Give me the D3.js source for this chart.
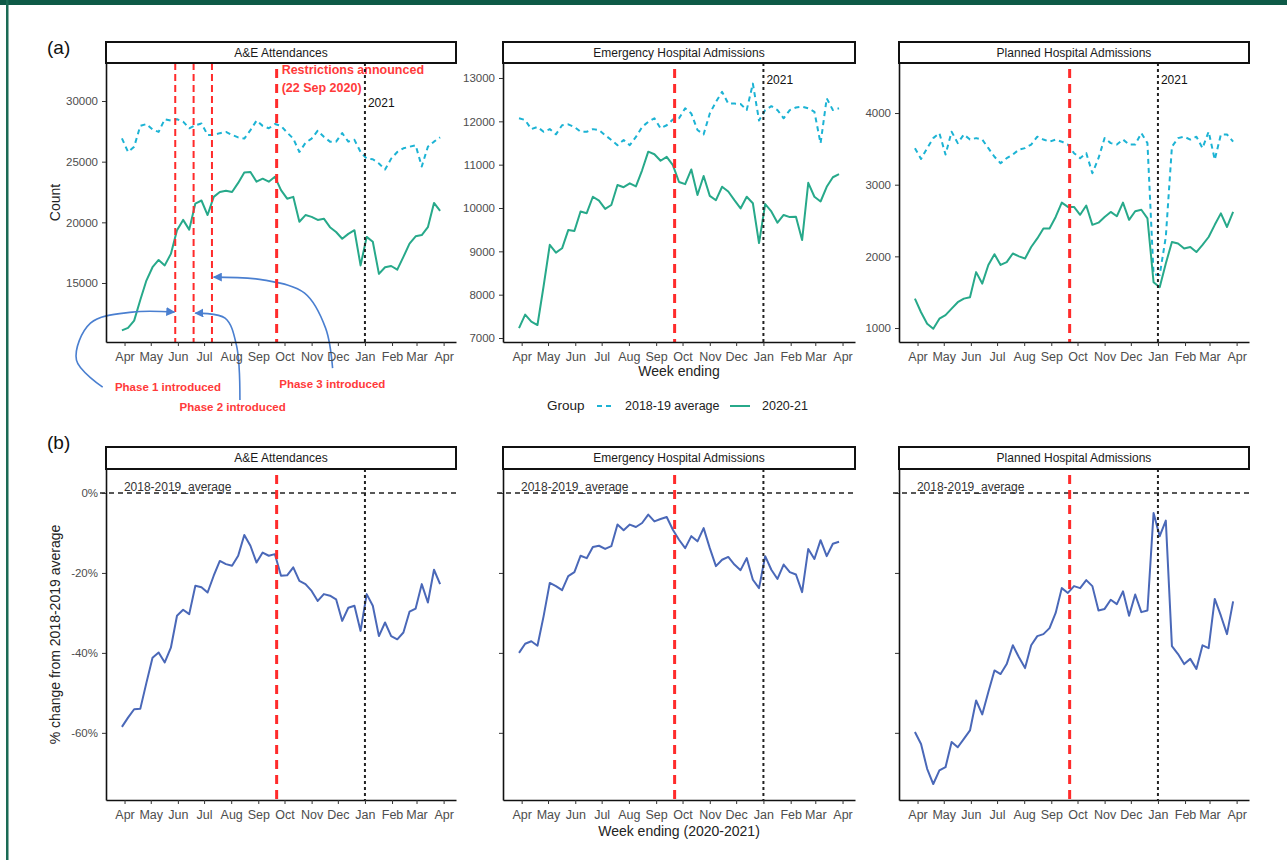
<!DOCTYPE html>
<html lang="en">
<head>
<meta charset="UTF-8">
<title>Weekly hospital activity 2020-21</title>
<script src="https://d3js.org/d3.v7.min.js"></script>
<style>
  body { margin: 0; background: #fff; }
  svg text { font-family: "Liberation Sans", Arial, sans-serif; }
</style>
</head>
<body>
<svg id="chart" width="1287" height="860"></svg>
<script>
// ---- data (weekly, week ending Sunday) ----
const weeks = d3.timeWeek.range(new Date(2020, 2, 29), new Date(2021, 2, 29));
const monthTicks = d3.timeMonth.range(new Date(2020, 3, 1), new Date(2021, 3, 2));
const panelNames = ["A&E Attendances", "Emergency Hospital Admissions", "Planned Hospital Admissions"];
const groupNames = ["2018-19 average", "2020-21"];

const aeAvg = [26920, 25800, 26230, 27950, 28100, 27650, 27450, 28500, 28380, 28500,
  28300, 27750, 28000, 28150, 27200, 27200, 27350, 27450, 27200, 27000,
  26900, 27600, 28380, 27950, 27750, 28100, 27950, 27400, 26900, 25800,
  26550, 26900, 27550, 27050, 26650, 26650, 27350, 26650, 26800, 25800,
  25250, 25200, 24850, 24350, 25250, 25800, 26100, 26230, 26350, 24600,
  26230, 26650, 27000];
const ae2021 = [11100, 11300, 11900, 13600, 15200, 16300, 16900, 16450, 17400, 19350,
  20200, 19400, 21550, 21800, 20600, 22100, 22500, 22600, 22500, 23250,
  24100, 24150, 23350, 23600, 23350, 23750, 22650, 21950, 22100, 20050,
  20600, 20450, 20200, 20300, 19600, 19200, 18650, 19050, 19350, 16450,
  18800, 18400, 15750, 16300, 16400, 16100, 17150, 18250, 18850, 18950,
  19600, 21600, 20950];
const emAvg = [12070, 12030, 11820, 11870, 11760, 11820, 11700, 11910, 11930, 11870,
  11760, 11760, 11820, 11800, 11680, 11570, 11450, 11570, 11450, 11640,
  11870, 11990, 12070, 11840, 11910, 12040, 12070, 12300, 12180, 11800,
  11700, 12180, 12450, 12680, 12410, 12410, 12400, 12260, 12870, 12020,
  12260, 12350, 12260, 12070, 12260, 12320, 12340, 12300, 12220, 11490,
  12530, 12260, 12300];
const em2021 = [7230, 7540, 7380, 7300, 8200, 9150, 8970, 9070, 9490, 9470,
  9920, 9880, 10260, 10170, 9980, 10070, 10530, 10480, 10570, 10500,
  10870, 11300, 11240, 11090, 11180, 10990, 10600, 10550, 10890, 10300,
  10740, 10280, 10180, 10490, 10380, 10180, 9990, 10260, 10110, 9190,
  10090, 9920, 9660, 9840, 9790, 9800, 9260, 10580, 10260, 10150,
  10490, 10710, 10780];
const plAvg = [3510, 3360, 3510, 3650, 3720, 3420, 3740, 3580, 3700, 3630,
  3650, 3630, 3510, 3390, 3300, 3370, 3420, 3490, 3510, 3560,
  3670, 3630, 3600, 3630, 3600, 3560, 3440, 3370, 3440, 3160,
  3370, 3650, 3580, 3560, 3630, 3560, 3560, 3720, 3580, 1750,
  1740, 2270, 3530, 3650, 3670, 3630, 3670, 3510, 3740, 3350,
  3700, 3700, 3600];
const pl2021 = [1410, 1220, 1060, 990, 1130, 1180, 1270, 1360, 1410, 1430,
  1780, 1620, 1880, 2030, 1880, 1920, 2040, 2000, 1970, 2130,
  2250, 2390, 2390, 2550, 2750, 2690, 2690, 2580, 2710, 2440,
  2470, 2550, 2620, 2560, 2750, 2510, 2630, 2650, 2530, 1640,
  1570, 1900, 2200, 2180, 2110, 2130, 2060, 2160, 2270, 2440,
  2600, 2410, 2620];

// % change from 2018-2019 average
const aeChange = [-58.5, -56.2, -54.1, -54.0, -47.5, -41.2, -39.9, -42.4, -38.7, -30.7,
  -29.2, -30.3, -23.2, -23.6, -24.9, -20.7, -17.0, -17.8, -18.2, -15.7,
  -10.5, -13.2, -17.4, -14.9, -15.7, -15.3, -20.7, -20.6, -18.6, -22.0,
  -22.8, -24.5, -27.0, -25.3, -25.7, -26.6, -32.0, -28.7, -28.2, -34.5,
  -25.3, -28.2, -35.8, -32.4, -35.8, -36.6, -34.9, -29.7, -28.9, -22.8,
  -27.4, -19.2, -22.8];
const emChange = [-40.0, -37.7, -37.1, -38.2, -30.8, -22.5, -23.3, -24.3, -20.8, -19.8,
  -15.7, -16.3, -13.5, -13.2, -14.0, -13.3, -7.9, -9.3, -7.9, -8.5,
  -7.5, -5.4, -7.1, -6.5, -6.0, -9.2, -11.7, -13.8, -10.8, -12.1,
  -8.8, -13.8, -18.3, -16.7, -16.0, -17.9, -19.3, -16.3, -21.7, -23.8,
  -15.8, -19.2, -21.5, -17.9, -19.8, -20.4, -24.8, -14.0, -16.5, -11.8,
  -15.8, -12.7, -12.2];
const plChange = [-59.8, -62.8, -69.0, -72.8, -69.4, -68.6, -62.3, -63.6, -61.5, -59.4,
  -51.9, -55.4, -49.8, -44.4, -45.3, -42.8, -38.1, -41.1, -43.8, -38.1,
  -35.8, -35.3, -33.8, -30.0, -23.8, -25.0, -23.3, -23.8, -21.8, -23.3,
  -29.4, -29.0, -26.7, -27.8, -24.6, -30.7, -25.4, -29.8, -29.4, -5.0,
  -10.8, -6.9, -38.3, -40.3, -42.8, -41.5, -44.0, -38.1, -38.8, -26.5,
  -30.7, -35.3, -27.1];

const countTicks = [[15000, 20000, 25000, 30000], [7000, 8000, 9000, 10000, 11000, 12000, 13000], [1000, 2000, 3000, 4000]];
const changeTicks = [0, -20, -40, -60];

const phaseDates = ["2020-05-29", "2020-06-19", "2020-07-10"];
const phaseLabels = ["Phase 1 introduced", "Phase 2 introduced", "Phase 3 introduced"];
const restrictionDate = "2020-09-22";
const newYearDate = "2021-01-01";

// ---- layout / style ----
const parseDate = d3.timeParse("%Y-%m-%d");
const svg = d3.select("#chart");
const W = 1287, H = 860;
const colLeft = [106, 503, 899];
const colWidth = [350, 352, 350];
const rows = [
  { stripTop: 42, plotTop: 63, plotBottom: 342 },
  { stripTop: 447, plotTop: 469, plotBottom: 800 }
];
const countDomains = [[10137, 33132], [6908, 13346], [805, 4698]];
const changeDomain = [-76.8, 6.0];
const yearLabelValue = [29510, 12861, 4405];

const colAvg = "#1cb3d4", col2021 = "#27a98a", colChange = "#4a68b8";
const colRed = "#ff2b2b", colArrow = "#4a7fd0";

// frame
svg.append("rect").attr("x", 0).attr("y", 0).attr("width", W).attr("height", 5).attr("fill", "#0e5a47");
svg.append("rect").attr("x", 6).attr("y", 0).attr("width", 2.5).attr("height", H).attr("fill", "#1b6b55");

svg.append("defs").append("marker")
  .attr("id", "arrowHead")
  .attr("viewBox", "0 0 10 10")
  .attr("refX", 9).attr("refY", 5)
  .attr("markerUnits", "userSpaceOnUse")
  .attr("markerWidth", 9).attr("markerHeight", 9)
  .attr("orient", "auto")
  .append("path").attr("d", "M0,0L10,5L0,10z").attr("fill", colArrow);

const xPadHours = 18.2 * 24;
function makeX(c) {
  return d3.scaleTime()
    .domain([d3.timeHour.offset(weeks[0], -xPadHours), d3.timeHour.offset(weeks[weeks.length - 1], xPadHours)])
    .range([colLeft[c], colLeft[c] + colWidth[c]]);
}

function styleAxis(g, size) {
  g.select(".domain").attr("stroke", "#111").attr("stroke-width", 1.6);
  g.selectAll(".tick line").attr("stroke", "#333").attr("stroke-width", 1);
  g.selectAll(".tick text").attr("fill", "#4d4d4d").attr("font-size", size)
    .attr("font-family", "'Liberation Sans', Arial, sans-serif");
}

function drawPanel(r, c, series, yDomain, yTicks, isChange) {
  const row = rows[r];
  const x = makeX(c);
  const y = d3.scaleLinear().domain(yDomain).range([row.plotBottom, row.plotTop]);
  const g = svg.append("g");
  const left = colLeft[c], right = colLeft[c] + colWidth[c];

  // data lines
  series.forEach(s => {
    g.append("path")
      .datum(s.values)
      .attr("fill", "none")
      .attr("stroke", s.color)
      .attr("stroke-width", 2)
      .attr("stroke-dasharray", s.dash || null)
      .attr("stroke-linejoin", "round")
      .attr("d", d3.line().x((d, i) => x(weeks[i])).y(d => y(d)));
  });

  if (isChange) {
    g.append("line")
      .attr("x1", left - 6).attr("x2", right)
      .attr("y1", y(0)).attr("y2", y(0))
      .attr("stroke", "#222").attr("stroke-width", 1.5).attr("stroke-dasharray", "5,4");
    g.append("text")
      .attr("x", x(weeks[0]) + 2).attr("y", y(0) - 2)
      .attr("font-size", 12).attr("fill", "#333")
      .text("2018-2019_average");
  }

  // panel 1 annotations
  if (r === 0 && c === 0) {
    phaseDates.forEach(d => {
      g.append("line")
        .attr("x1", x(parseDate(d))).attr("x2", x(parseDate(d)))
        .attr("y1", row.plotTop).attr("y2", row.plotBottom)
        .attr("stroke", colRed).attr("stroke-width", 2).attr("stroke-dasharray", "7,4");
    });
    g.append("text")
      .attr("x", x(parseDate(restrictionDate)) + 5).attr("y", y(32230))
      .attr("font-size", 12.5).attr("font-weight", "bold").attr("fill", "#ff3a3a")
      .text("Restrictions announced");
    g.append("text")
      .attr("x", x(parseDate(restrictionDate)) + 5).attr("y", y(30748))
      .attr("font-size", 12.5).attr("font-weight", "bold").attr("fill", "#ff3a3a")
      .text("(22 Sep 2020)");

    const labelAt = [["2020-03-21", 6082], ["2020-06-03", 4432], ["2020-09-25", 6329]];
    phaseLabels.forEach((t, i) => {
      g.append("text")
        .attr("x", x(parseDate(labelAt[i][0]))).attr("y", y(labelAt[i][1]))
        .attr("font-size", 11.5).attr("font-weight", "bold").attr("fill", "#ff3a3a")
        .text(t);
    });

    const arrows = [
      [["2020-03-07", 6412], ["2020-02-06", 8639], ["2020-02-22", 11691], ["2020-04-10", 12599], ["2020-05-28", 12599]],
      [["2020-08-11", 5350], ["2020-08-07", 9877], ["2020-07-25", 12104], ["2020-06-21", 12516]],
      [["2020-11-25", 7979], ["2020-11-17", 11279], ["2020-10-24", 14166], ["2020-09-08", 15239], ["2020-07-12", 15486]]
    ];
    const arrowLine = d3.line()
      .x(d => x(parseDate(d[0]))).y(d => y(d[1]))
      .curve(d3.curveCatmullRom.alpha(0.5));
    arrows.forEach(a => {
      g.append("path").attr("d", arrowLine(a))
        .attr("fill", "none").attr("stroke", colArrow).attr("stroke-width", 1.6)
        .attr("marker-end", "url(#arrowHead)");
    });
  }

  // Sep 22 restrictions line
  const xr = x(parseDate(restrictionDate));
  g.append("line")
    .attr("x1", xr).attr("x2", xr)
    .attr("y1", row.plotTop + 6).attr("y2", row.plotBottom)
    .attr("stroke", colRed).attr("stroke-width", 3).attr("stroke-dasharray", "9,6");

  // new year line
  const xj = x(parseDate(newYearDate));
  g.append("line")
    .attr("x1", xj).attr("x2", xj)
    .attr("y1", row.plotTop).attr("y2", row.plotBottom)
    .attr("stroke", "#222").attr("stroke-width", 2).attr("stroke-dasharray", "3,3");
  if (!isChange) {
    g.append("text")
      .attr("x", xj + 3).attr("y", y(yearLabelValue[c]))
      .attr("font-size", 12).attr("fill", "#111")
      .text("2021");
  }

  // axes
  const xAxis = g.append("g")
    .attr("transform", `translate(0,${row.plotBottom})`)
    .call(d3.axisBottom(x).tickValues(monthTicks).tickFormat(d3.timeFormat("%b"))
      .tickSize(4).tickSizeOuter(0).tickPadding(6));
  styleAxis(xAxis, 12.5);

  const yAxis = d3.axisLeft(y).tickValues(yTicks).tickSize(4).tickSizeOuter(0).tickPadding(4);
  if (isChange) yAxis.tickFormat(c === 0 ? (d => d + "%") : () => "");
  else yAxis.tickFormat(d3.format("d"));
  const yg = g.append("g").attr("transform", `translate(${left},0)`).call(yAxis);
  styleAxis(yg, 11.5);

  // strip
  g.append("rect")
    .attr("x", left).attr("y", row.stripTop)
    .attr("width", colWidth[c]).attr("height", row.plotTop - row.stripTop)
    .attr("fill", "#fff").attr("stroke", "#111").attr("stroke-width", 2);
  g.append("text")
    .attr("x", (left + right) / 2).attr("y", (row.stripTop + row.plotTop) / 2 + 4.3)
    .attr("text-anchor", "middle").attr("font-size", 12).attr("fill", "#1a1a1a")
    .text(panelNames[c]);
}

const countSeries = [[aeAvg, ae2021], [emAvg, em2021], [plAvg, pl2021]];
const changeSeries = [aeChange, emChange, plChange];

countSeries.forEach((s, c) => {
  drawPanel(0, c, [
    { values: s[0], color: colAvg, dash: "5,4" },
    { values: s[1], color: col2021 }
  ], countDomains[c], countTicks[c], false);
});
changeSeries.forEach((s, c) => {
  drawPanel(1, c, [{ values: s, color: colChange }], changeDomain, changeTicks, true);
});

// titles
svg.append("text").attr("x", 47).attr("y", 54).attr("font-size", 19).attr("fill", "#111").text("(a)");
svg.append("text").attr("x", 47).attr("y", 449).attr("font-size", 19).attr("fill", "#111").text("(b)");

svg.append("text")
  .attr("transform", `translate(60,${(rows[0].plotTop + rows[0].plotBottom) / 2}) rotate(-90)`)
  .attr("text-anchor", "middle").attr("font-size", 14).attr("fill", "#222")
  .text("Count");
svg.append("text")
  .attr("transform", `translate(60,${(rows[1].plotTop + rows[1].plotBottom) / 2}) rotate(-90)`)
  .attr("text-anchor", "middle").attr("font-size", 14).attr("fill", "#222")
  .text("% change from 2018-2019 average");

svg.append("text").attr("x", colLeft[1] + colWidth[1] / 2).attr("y", 376)
  .attr("text-anchor", "middle").attr("font-size", 14).attr("fill", "#222").text("Week ending");
svg.append("text").attr("x", colLeft[1] + colWidth[1] / 2).attr("y", 836)
  .attr("text-anchor", "middle").attr("font-size", 14).attr("fill", "#222").text("Week ending (2020-2021)");

// legend
const lg = svg.append("g").attr("transform", "translate(547,410)");
lg.append("text").attr("x", 0).attr("y", 0).attr("font-size", 13.5).attr("fill", "#222").text("Group");
lg.append("line").attr("x1", 50).attr("x2", 68).attr("y1", -4).attr("y2", -4)
  .attr("stroke", colAvg).attr("stroke-width", 2).attr("stroke-dasharray", "5,4");
lg.append("text").attr("x", 78).attr("y", 0).attr("font-size", 12.5).attr("fill", "#222").text(groupNames[0]);
lg.append("line").attr("x1", 183).attr("x2", 203).attr("y1", -4).attr("y2", -4)
  .attr("stroke", col2021).attr("stroke-width", 2);
lg.append("text").attr("x", 215).attr("y", 0).attr("font-size", 12.5).attr("fill", "#222").text(groupNames[1]);
</script>
</body>
</html>
